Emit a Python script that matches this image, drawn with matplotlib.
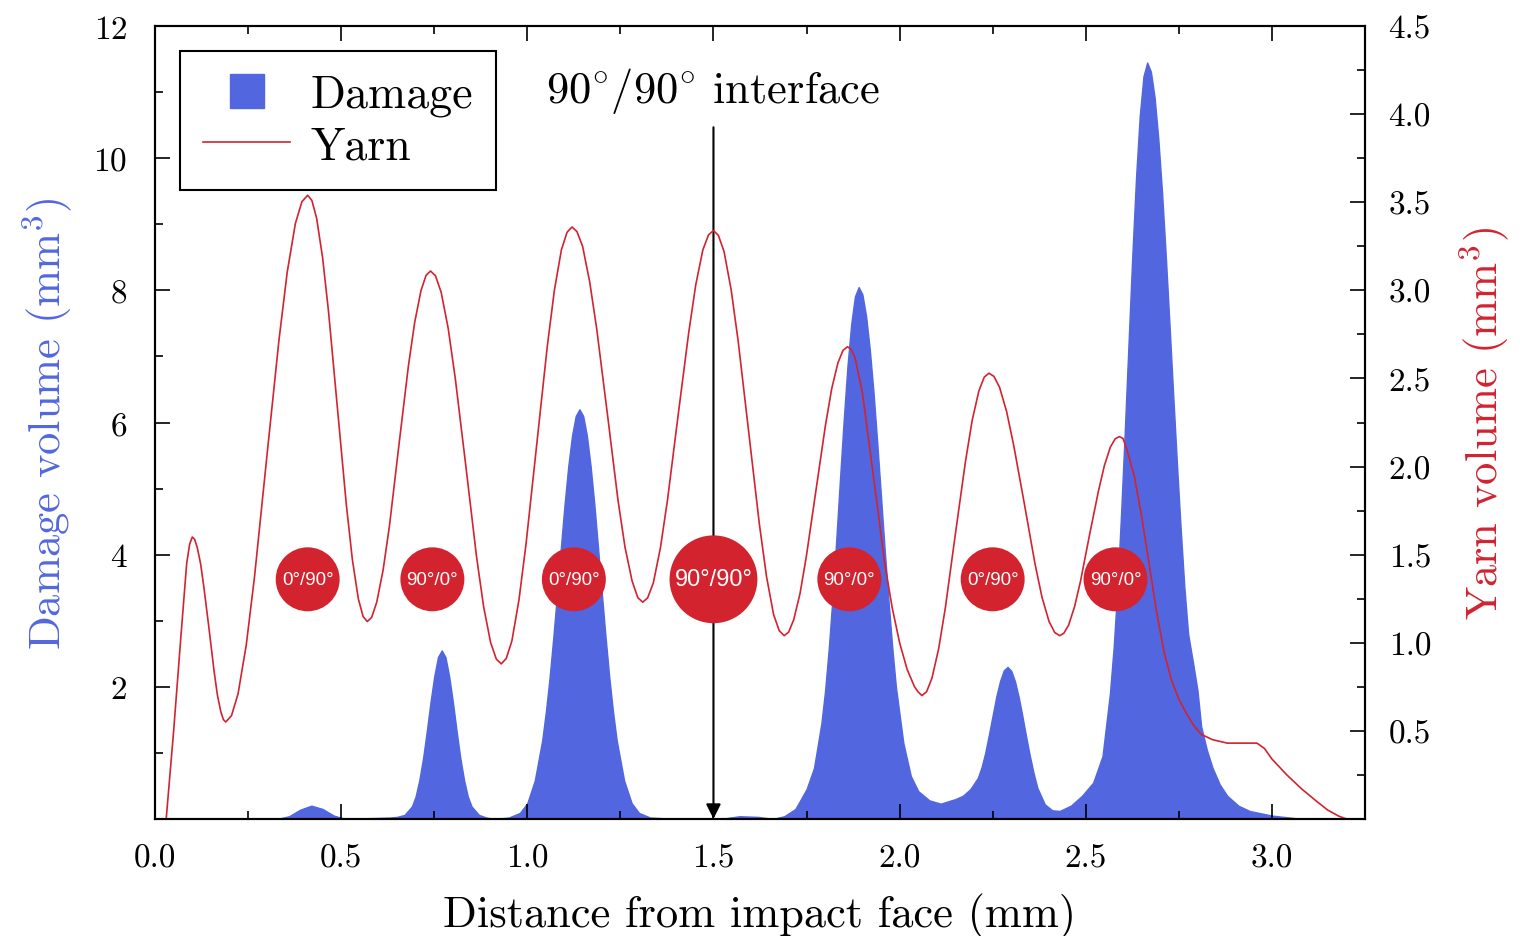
import numpy as np
import matplotlib.pyplot as plt
from matplotlib.lines import Line2D
from matplotlib.ticker import MultipleLocator, FixedLocator, FormatStrFormatter

plt.rcParams['font.family'] = 'cmr10'
plt.rcParams['mathtext.fontset'] = 'cm'
plt.rcParams['axes.formatter.use_mathtext'] = True

# damage volume through the thickness (mm^3, left axis)
damage_x = [0.00, 0.33, 0.36, 0.39, 0.42, 0.45, 0.48, 0.51,
            0.63, 0.65, 0.67, 0.69, 0.70, 0.71, 0.72, 0.73, 0.74, 0.75, 0.76, 0.77,
            0.78, 0.79, 0.80, 0.81, 0.82, 0.83, 0.84, 0.85, 0.87, 0.89, 0.91,
            0.95, 0.98, 1.00, 1.02, 1.04, 1.05, 1.06, 1.07, 1.08, 1.09, 1.10, 1.11,
            1.12, 1.13, 1.14, 1.15, 1.16, 1.17, 1.18, 1.19, 1.20, 1.21, 1.22, 1.23,
            1.24, 1.26, 1.28, 1.30, 1.33, 1.40,
            1.52, 1.57, 1.62, 1.66, 1.69, 1.72, 1.75, 1.77, 1.79, 1.80, 1.81, 1.82,
            1.83, 1.84, 1.85, 1.86, 1.87, 1.88, 1.89, 1.90, 1.91, 1.92, 1.93, 1.94,
            1.95, 1.96, 1.97, 1.98, 1.99, 2.01, 2.03, 2.05, 2.08, 2.11,
            2.15, 2.17, 2.19, 2.21, 2.22, 2.23, 2.24, 2.25, 2.26, 2.27, 2.28, 2.29,
            2.30, 2.31, 2.32, 2.33, 2.34, 2.35, 2.36, 2.37, 2.39, 2.41, 2.43,
            2.46, 2.49, 2.52, 2.545, 2.565, 2.575, 2.585, 2.595, 2.605, 2.615, 2.625,
            2.635, 2.645, 2.655, 2.665, 2.675, 2.685, 2.695, 2.705, 2.715, 2.725,
            2.735, 2.745, 2.755, 2.765, 2.775, 2.79, 2.80, 2.81, 2.825, 2.84, 2.86,
            2.88, 2.91, 2.94, 3.00, 3.08, 3.25]
damage_y = [0.0, 0.0, 0.04, 0.14, 0.2, 0.15, 0.05, 0.0,
            0.02, 0.03, 0.06, 0.19, 0.34, 0.59, 0.92, 1.33, 1.77, 2.16, 2.45, 2.55,
            2.45, 2.16, 1.77, 1.33, 0.92, 0.59, 0.34, 0.19, 0.06, 0.02, 0.0,
            0.02, 0.09, 0.24, 0.58, 1.19, 1.63, 2.15, 2.76, 3.42, 4.10, 4.76, 5.34,
            5.80, 6.10, 6.2, 6.10, 5.80, 5.34, 4.76, 4.10, 3.42, 2.76, 2.15, 1.63,
            1.19, 0.58, 0.24, 0.09, 0.02, 0.0,
            0.0, 0.04, 0.03, 0.0, 0.04, 0.15, 0.45, 0.77, 1.45, 1.95, 2.6, 3.37,
            4.24, 5.16, 6.05, 6.86, 7.49, 7.91, 8.05, 7.94, 7.61, 7.10, 6.45, 5.69,
            4.88, 4.07, 3.31, 2.61, 2.0, 1.15, 0.65, 0.42, 0.28, 0.23,
            0.3, 0.35, 0.45, 0.62, 0.78, 1.0, 1.28, 1.57, 1.86, 2.09, 2.25, 2.3,
            2.24, 2.08, 1.84, 1.55, 1.24, 0.95, 0.69, 0.47, 0.22, 0.13, 0.12,
            0.2, 0.35, 0.55, 0.95, 1.9, 2.6, 3.5, 4.63, 5.89, 7.21, 8.52,
            9.70, 10.64, 11.24, 11.45, 11.31, 10.92, 10.29, 9.48, 8.52, 7.48,
            6.41, 5.37, 4.39, 3.5, 2.8, 2.3, 1.95, 1.4, 1.05, 0.78, 0.52,
            0.35, 0.2, 0.12, 0.05, 0.0, 0.0]

# yarn volume through the thickness (mm^3, right axis)
yarn_x = [0.03, 0.05, 0.07, 0.085, 0.093, 0.10, 0.1063, 0.1135, 0.1225, 0.1315,
          0.145, 0.1585, 0.1675, 0.1765, 0.1837, 0.19,
          0.2054, 0.223, 0.245, 0.267, 0.30, 0.333, 0.355, 0.377, 0.3946, 0.41,
          0.4212, 0.434, 0.45, 0.466, 0.49, 0.514, 0.53, 0.546, 0.5588, 0.57,
          0.5819, 0.5955, 0.6125, 0.6295, 0.655, 0.6805, 0.6975, 0.7145, 0.7281, 0.74,
          0.7533, 0.7685, 0.7875, 0.8065, 0.835, 0.8635, 0.8825, 0.9015, 0.9167, 0.93,
          0.9433, 0.9585, 0.9775, 0.9965, 1.025, 1.0535, 1.0725, 1.0915, 1.1067, 1.12,
          1.1333, 1.1485, 1.1675, 1.1865, 1.215, 1.2435, 1.2625, 1.2815, 1.2967, 1.31,
          1.3233, 1.3385, 1.3575, 1.3765, 1.405, 1.4335, 1.4525, 1.4715, 1.4867, 1.50,
          1.5133, 1.5285, 1.5475, 1.5665, 1.595, 1.6235, 1.6425, 1.6615, 1.6767, 1.69,
          1.7019, 1.7155, 1.7325, 1.7495, 1.775, 1.8005, 1.8175, 1.8345, 1.8481, 1.86,
          1.87, 1.88, 1.90, 1.92, 1.94, 1.96, 1.98, 2.00, 2.02, 2.04, 2.05, 2.06,
          2.0726, 2.087, 2.105, 2.123, 2.15, 2.177, 2.195, 2.213, 2.2274, 2.24,
          2.2533, 2.2685, 2.2875, 2.3065, 2.335, 2.3635, 2.3825, 2.4015, 2.4167, 2.43,
          2.4412, 2.454, 2.47, 2.486, 2.51, 2.534, 2.55, 2.566, 2.5788, 2.59, 2.60,
          2.61, 2.63, 2.65, 2.67, 2.69, 2.71, 2.73, 2.75, 2.77, 2.79, 2.81, 2.84,
          2.88, 2.96, 2.98, 3.00, 3.04, 3.08, 3.12, 3.15, 3.18, 3.20]
yarn_y = [0.0, 0.5, 1.05, 1.45, 1.56, 1.60, 1.587, 1.54, 1.447, 1.31,
          1.08, 0.84, 0.703, 0.61, 0.563, 0.55,
          0.586, 0.71, 0.987, 1.37, 2.05, 2.72, 3.103, 3.38, 3.504, 3.54,
          3.511, 3.41, 3.187, 2.88, 2.33, 1.78, 1.473, 1.25, 1.149, 1.12,
          1.144, 1.23, 1.411, 1.66, 2.12, 2.57, 2.819, 3.0, 3.086, 3.11,
          3.083, 2.99, 2.784, 2.50, 2.0, 1.49, 1.206, 1.0, 0.907, 0.88,
          0.91, 1.01, 1.242, 1.56, 2.12, 2.68, 2.998, 3.23, 3.33, 3.36,
          3.334, 3.25, 3.049, 2.78, 2.30, 1.81, 1.541, 1.35, 1.256, 1.23,
          1.255, 1.34, 1.538, 1.81, 2.29, 2.76, 3.032, 3.23, 3.315, 3.34,
          3.312, 3.22, 3.004, 2.71, 2.19, 1.67, 1.376, 1.16, 1.068, 1.04,
          1.06, 1.13, 1.279, 1.49, 1.86, 2.23, 2.441, 2.59, 2.66, 2.68,
          2.665, 2.62, 2.42, 2.1, 1.78, 1.45, 1.2, 1.0, 0.85, 0.75, 0.72, 0.70,
          0.722, 0.80, 0.967, 1.2, 1.62, 2.03, 2.263, 2.43, 2.508, 2.53,
          2.512, 2.45, 2.312, 2.12, 1.79, 1.45, 1.258, 1.12, 1.058, 1.04,
          1.054, 1.10, 1.205, 1.35, 1.61, 1.86, 2.005, 2.11, 2.157, 2.17, 2.16,
          2.1, 1.95, 1.72, 1.45, 1.18, 0.95, 0.79, 0.68, 0.6, 0.53, 0.48, 0.45,
          0.43, 0.43, 0.40, 0.34, 0.25, 0.17, 0.10, 0.05, 0.015, 0.0]

# ply interfaces (positions on the distance axis, badge height on right axis)
layer_x = [0.41, 0.745, 1.125, 1.50, 1.865, 2.25, 2.58]
layer_labels = ['0°/90°', '90°/0°', '0°/90°', '90°/90°', '90°/0°', '0°/90°', '90°/0°']
layer_big = [False, False, False, True, False, False, False]
layer_y = 1.36

interface_x = 1.5
arrow_top = 10.47

blue = '#5267DF'
red = '#D2232F'

fig = plt.figure(figsize=(15.2, 9.37), dpi=100)
ax = fig.add_axes([0.102, 0.125, 0.796, 0.846])
ax2 = ax.twinx()

ax.fill_between(damage_x, damage_y, color=blue, lw=1)
ax.annotate('', xy=(interface_x, 0), xytext=(interface_x, arrow_top),
            arrowprops=dict(arrowstyle='-|>', color='k', lw=1.5,
                            mutation_scale=22, shrinkA=0, shrinkB=0))
ax.text(interface_x, 11.03, r'$90^{\circ}/90^{\circ}$ interface',
        ha='center', va='center', fontsize=32)

ax2.plot(yarn_x, yarn_y, color=red, lw=1.2)

for x, lab, big in zip(layer_x, layer_labels, layer_big):
    ax2.scatter([x], [layer_y], s=4000 if big else 2120, color=red,
                edgecolors='none', zorder=5)
    ax2.text(x, layer_y, lab, color='white', ha='center', va='center',
             fontsize=17 if big else 13.5, family='Liberation Sans', zorder=6)

ax.set_xlim(0, 3.25)
ax.set_ylim(0, 12)
ax2.set_ylim(0, 4.5)

ax.xaxis.set_major_locator(MultipleLocator(0.5))
ax.xaxis.set_minor_locator(MultipleLocator(0.25))
ax.xaxis.set_major_formatter(FormatStrFormatter('%.1f'))
ax.yaxis.set_major_locator(FixedLocator([2, 4, 6, 8, 10, 12]))
ax.yaxis.set_minor_locator(FixedLocator([1, 3, 5, 7, 9, 11]))
ax2.yaxis.set_major_locator(FixedLocator([0.5, 1.0, 1.5, 2.0, 2.5, 3.0, 3.5, 4.0, 4.5]))
ax2.yaxis.set_minor_locator(FixedLocator([0.25, 0.75, 1.25, 1.75, 2.25, 2.75, 3.25, 3.75, 4.25]))
ax2.yaxis.set_major_formatter(FormatStrFormatter('%.1f'))

for a in (ax, ax2):
    a.tick_params(which='both', direction='in', labelsize=24, width=1.2)
    a.tick_params(which='major', length=11)
    a.tick_params(which='minor', length=6)
    for sp in a.spines.values():
        sp.set_linewidth(1.5)
ax.tick_params(which='both', top=True, right=False)
ax.tick_params(axis='x', pad=18)
ax.tick_params(axis='y', pad=20)
ax2.tick_params(axis='y', pad=17)

ax.set_xlabel('Distance from impact face (mm)', fontsize=32, labelpad=14)
ax.set_ylabel(r'Damage volume (mm$^3$)', fontsize=32, color=blue, labelpad=14)
ax2.set_ylabel(r'Yarn volume (mm$^3$)', fontsize=32, color=red, labelpad=19)

handles = [Line2D([], [], marker='s', color=blue, linestyle='none', markersize=25),
           Line2D([], [], color=red, lw=1.2)]
leg = ax2.legend(handles, ['Damage', 'Yarn'], loc='upper left',
                 bbox_to_anchor=(0.0207, 0.9685), borderaxespad=0, fontsize=33,
                 fancybox=False, framealpha=1, edgecolor='k',
                 handlelength=1.9, handletextpad=0.45, labelspacing=0.2,
                 borderpad=0.5)
leg.get_frame().set_linewidth(1.5)

fig.savefig('out.png', dpi=100)
